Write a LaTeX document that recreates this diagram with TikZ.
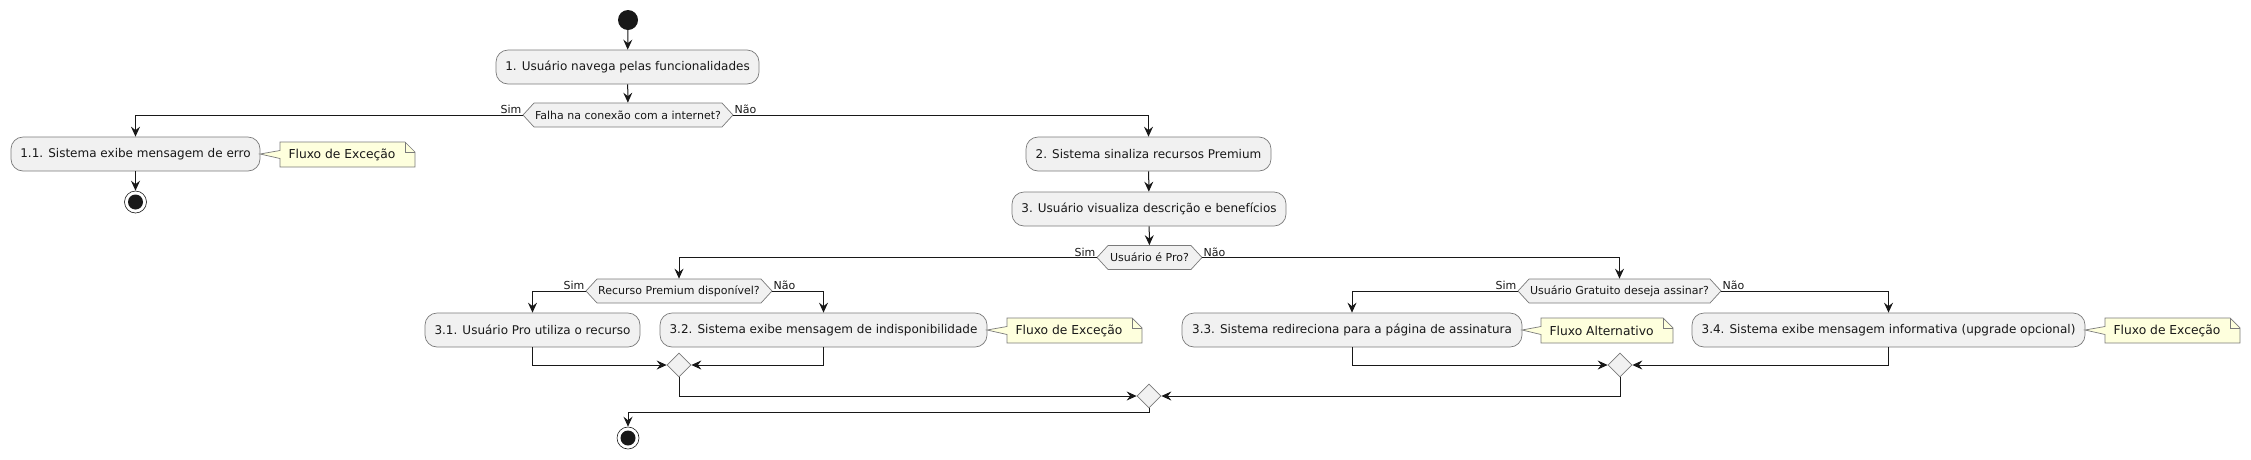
\documentclass[tikz,border=0pt]{standalone}
\usepackage{fontspec}
\setmainfont{DejaVu Sans}
\usetikzlibrary{arrows.meta,shapes.symbols,shapes.geometric}
\definecolor{ln}{HTML}{181818}
\definecolor{bx}{HTML}{F1F1F1}
\definecolor{nt}{HTML}{FEFFDD}
\definecolor{bd}{HTML}{7A7A7A}
\begin{document}
\begin{tikzpicture}[x=1pt,y=-1pt,
  act/.style={draw=bd,fill=bx,line width=0.7pt,rounded corners=12pt,minimum height=34pt,inner sep=0pt,font=\fontsize{12}{14}\selectfont,text=ln},
  dec/.style={draw=bd,fill=bx,line width=0.7pt,shape=signal,signal to=west and east,signal pointer angle=95,minimum height=24pt,inner sep=0pt,font=\fontsize{11}{13}\selectfont,text=ln},
  mrg/.style={draw=bd,fill=bx,line width=0.7pt,diamond,minimum width=24pt,minimum height=24pt,inner sep=0pt},
  arr/.style={draw=ln,line width=1pt,-{Stealth[length=10pt,width=9pt,inset=3.5pt]}},
  lbl/.style={font=\fontsize{11}{13}\selectfont,text=ln,inner sep=1pt},
  endc/.style={circle,draw=ln,fill=white,line width=0.6pt,minimum size=22pt,inner sep=0pt},
  ntxt/.style={font=\fontsize{12.3}{15}\selectfont,text=ln}]
\useasboundingbox (0,0) rectangle (2251,459);
% nodes
\node[circle,fill=ln,minimum size=20pt,inner sep=0pt] (start) at (628,20) {};
\node[act,minimum width=263pt] (b1) at (627.5,67) {1. Usuário navega pelas funcionalidades};
\node[dec,minimum width=210pt] (d1) at (628,115) {Falha na conexão com a internet?};
\node[act,minimum width=249pt] (b11) at (135.5,154) {1.1. Sistema exibe mensagem de erro};
\node[endc] (e1) at (135.5,202) {};
\fill[ln] (e1) circle[radius=7.5pt];
\node[act,minimum width=245pt] (b2) at (1148.5,154) {2. Sistema sinaliza recursos Premium};
\node[act,minimum width=274pt] (b3) at (1149,209) {3. Usuário visualiza descrição e benefícios};
\node[dec,minimum width=105pt] (d2) at (1149.5,257.5) {Usuário é Pro?};
\node[dec,minimum width=186pt] (d3) at (679,291) {Recurso Premium disponível?};
\node[dec,minimum width=203pt] (d4) at (1619.5,291) {Usuário Gratuito deseja assinar?};
\node[act,minimum width=215pt] (b31) at (532.5,330) {3.1. Usuário Pro utiliza o recurso};
\node[act,minimum width=327pt] (b32) at (823.5,330) {3.2. Sistema exibe mensagem de indisponibilidade};
\node[act,minimum width=340pt] (b33) at (1352,330) {3.3. Sistema redireciona para a página de assinatura};
\node[act,minimum width=393pt] (b34) at (1888.5,330) {3.4. Sistema exibe mensagem informativa (upgrade opcional)};
\node[mrg] (m1) at (679,365) {};
\node[mrg] (m2) at (1620,365) {};
\node[mrg] (M) at (1149,396) {};
\node[endc] (e2) at (628,438) {};
\fill[ln] (e2) circle[radius=7.5pt];
% notes
\newcommand{\mynote}[6]{% name, x1, x2, boxright, y, text
  \path[draw=bd,fill=nt,line width=0.7pt] (#2,#5-12) -- (#3-10,#5-12) -- (#3,#5-2) -- (#3,#5+13) -- (#2,#5+13) -- (#2,#5+4.5) -- (#4,#5) -- (#2,#5-3.5) -- cycle;
  \draw[bd,line width=0.7pt] (#3-10,#5-12) -- (#3-10,#5-2) -- (#3,#5-2);
  \node[ntxt,anchor=west] (#1) at (#2+5,#5+0.5) {#6};}
\mynote{n1}{280}{415}{260}{154}{Fluxo de Exceção}
\mynote{n2}{1007}{1142}{987}{330}{Fluxo de Exceção}
\mynote{n3}{1541}{1673}{1522}{330}{Fluxo Alternativo}
\mynote{n4}{2105}{2240}{2085}{330}{Fluxo de Exceção}
% connectors
\draw[arr] (start) -- (b1);
\draw[arr] (b1) -- (d1);
\draw[arr] (d1.west) -| (b11.north);
\draw[arr] (d1.east) -| (b2.north);
\draw[arr] (b11) -- (e1);
\draw[arr] (b2) -- (b3);
\draw[arr] (b3) -- (d2);
\draw[arr] (d2.west) -| (d3.north);
\draw[arr] (d2.east) -| (d4.north);
\draw[arr] (d3.west) -| (b31.north);
\draw[arr] (d3.east) -| (b32.north);
\draw[arr] (d4.west) -| (b33.north);
\draw[arr] (d4.east) -| (b34.north);
\draw[arr] (b31.south) |- (m1.west);
\draw[arr] (b32.south) |- (m1.east);
\draw[arr] (b33.south) |- (m2.west);
\draw[arr] (b34.south) |- (m2.east);
\draw[arr] (m1.south) |- (M.west);
\draw[arr] (m2.south) |- (M.east);
\draw[arr] (M.south) -- ++(0,4) -| (e2.north);
% labels
\foreach \d in {d1,d2,d3,d4}{
  \node[lbl,anchor=south east] at (\d.west) {Sim};
  \node[lbl,anchor=south west] at (\d.east) {Não};}
\end{tikzpicture}
\end{document}
